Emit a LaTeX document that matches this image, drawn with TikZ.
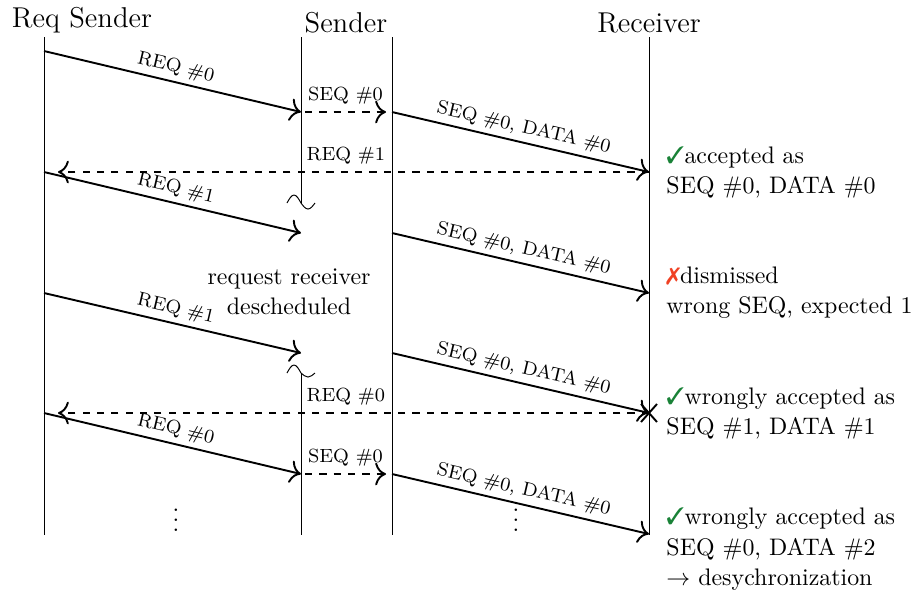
\documentclass[tikz,border=0pt]{standalone}
\usepackage{pifont}
\usetikzlibrary{arrows.meta}
\definecolor{okgreen}{RGB}{25,130,55}
\definecolor{badred}{RGB}{240,65,35}
\begin{document}
\begin{tikzpicture}[x=0.4184pt,y=-0.4184pt,
  life/.style={thin},
  msg/.style={thick,-{To[scale=1.35]}},
  dmsg/.style={thick,-{To[scale=1.35]},dashed},
  lbl/.style={font=\footnotesize,above,sloped,pos=0.5,inner sep=2pt},
  hlbl/.style={font=\footnotesize,above,inner sep=3pt},
  hdr/.style={font=\large,anchor=south,inner sep=1.5pt},
  note/.style={anchor=west,align=left,inner sep=0pt,
    execute at begin node={\setlength{\baselineskip}{12.6pt}}},
  squig/.style={thin}]
\useasboundingbox (0,0) rectangle (920,592);
% lifeline ends
\coordinate (rsT) at (44,37);  \coordinate (rsB) at (44,535);
\coordinate (s1T) at (301,37); \coordinate (s1B) at (301,535);
\coordinate (s2T) at (392,37); \coordinate (s2B) at (392,535);
\coordinate (rT) at (649,37);  \coordinate (rB) at (649,535);
\coordinate (cut1) at (301,203);
\coordinate (cut2) at (301,373);
% headers
\node[hdr] (hrs) at (82,37) {Req Sender};
\node[hdr] (hs) at (346,37) {Sender};
\node[hdr] (hr) at (rT) {Receiver};
% lifelines
\draw[life] (rsT) -- (rsB);
\draw[life] (s1T) -- (cut1);
\draw[life] (cut2) -- (s1B);
\draw[life] (s2T) -- (s2B);
\draw[life] (rT) -- (rB);
% squiggles
\draw[squig] (cut1) ++(-14,0) sin ++(7,-8) cos ++(7,8) sin ++(7,6) cos ++(7,-6);
\draw[squig] (cut2) ++(-14,0) sin ++(7,-8) cos ++(7,8) sin ++(7,4) cos ++(7,-4);
% event coordinates
\coordinate (a0) at (44,51);   \coordinate (b0) at (301,112);
\coordinate (q0) at (305,112); \coordinate (p0) at (386,112);
\coordinate (c0) at (392,112); \coordinate (d0) at (649,172);
\coordinate (e0) at (58,172);
\coordinate (a1) at (44,172);  \coordinate (b1) at (301,233);
\coordinate (c1) at (392,233); \coordinate (d1) at (649,293);
\coordinate (a2) at (44,293);  \coordinate (b2) at (301,353);
\coordinate (c2) at (392,353); \coordinate (d2) at (649,413);
\coordinate (e2) at (58,413);
\coordinate (a3) at (44,413);  \coordinate (b3) at (301,474);
\coordinate (q3) at (305,474); \coordinate (p3) at (386,474);
\coordinate (c3) at (392,474); \coordinate (d3) at (649,534);
% messages
\draw[msg] (a0) -- node[lbl] {REQ \#0} (b0);
\draw[dmsg] (q0) -- node[hlbl] {SEQ \#0} (p0);
\draw[msg] (c0) -- node[lbl] {SEQ \#0, DATA \#0} (d0);
\draw[dmsg] (d0) -- node[hlbl,pos=0.513] {REQ \#1} (e0);
\draw[msg] (a1) -- node[lbl] {REQ \#1} (b1);
\draw[msg] (c1) -- node[lbl] {SEQ \#0, DATA \#0} (d1);
\draw[msg] (a2) -- node[lbl] {REQ \#1} (b2);
\draw[msg] (c2) -- node[lbl] {SEQ \#0, DATA \#0} (d2);
\draw[dmsg] (d2) -- node[hlbl,pos=0.513] {REQ \#0} (e2);
\draw[msg] (a3) -- node[lbl] {REQ \#0} (b3);
\draw[dmsg] (q3) -- node[hlbl] {SEQ \#0} (p3);
\draw[msg] (c3) -- node[lbl] {SEQ \#0, DATA \#0} (d3);
% cross at receiver
\draw[thick] (d2) ++(-8,-9) -- ++(16,18);
\draw[thick] (d2) ++(-8,9) -- ++(16,-18);
% texts
\node[align=center,execute at begin node={\setlength{\baselineskip}{12.6pt}}] (desc) at (289,292) {request receiver\\descheduled};
\node (dots1) at (176,513) {$\vdots$};
\node (dots2) at (516,513) {$\vdots$};
\node[note] (n1) at (666,172) {\textcolor{okgreen}{\ding{51}}accepted as\\SEQ \#0, DATA \#0};
\node[note] (n2) at (666,293) {\textcolor{badred}{\ding{55}}dismissed\\wrong SEQ, expected 1};
\node[note] (n3) at (666,413) {\textcolor{okgreen}{\ding{51}}wrongly accepted as\\SEQ \#1, DATA \#1};
\node[note] (n4) at (666,549) {\textcolor{okgreen}{\ding{51}}wrongly accepted as\\SEQ \#0, DATA \#2\\$\rightarrow$ desychronization};
\end{tikzpicture}
\end{document}
